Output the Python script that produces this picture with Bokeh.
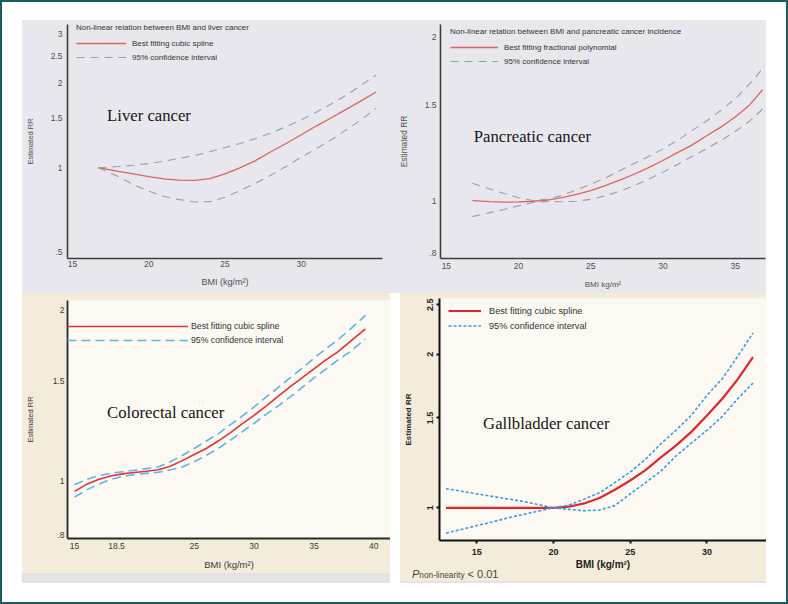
from bokeh.plotting import figure
from bokeh.models import Range1d, FixedTicker, Legend, LegendItem, Label, Spacer, Div
from bokeh.layouts import row, column
from bokeh.embed import file_html
from bokeh.resources import INLINE

SANS = "Liberation Sans"
SERIF = "Liberation Serif"

# ---------------- data ----------------
liver_bmi = [16.7, 18, 19, 20, 21, 22, 23, 24, 25, 26, 27, 28, 29, 30, 31, 32, 33, 34, 34.9]
liver_rr = [1.0, 0.97, 0.95, 0.93, 0.912, 0.903, 0.902, 0.915, 0.95, 1.0, 1.06, 1.14, 1.22, 1.31, 1.41, 1.51, 1.62, 1.74, 1.86]
liver_hi = [1.0, 1.01, 1.02, 1.035, 1.055, 1.08, 1.105, 1.14, 1.18, 1.22, 1.27, 1.33, 1.40, 1.48, 1.58, 1.69, 1.82, 1.98, 2.14]
liver_lo = [1.0, 0.93, 0.87, 0.825, 0.79, 0.77, 0.755, 0.757, 0.785, 0.83, 0.88, 0.94, 1.01, 1.09, 1.17, 1.26, 1.37, 1.49, 1.63]
liver_xticks = [15, 20, 25, 30]
liver_xlabels = ["15", "20", "25", "30"]
liver_yticks = [0.5, 1, 1.5, 2, 2.5, 3]
liver_ylabels = [".5", "1", "1.5", "2", "2.5", "3"]

panc_bmi = [16.8, 18, 19, 20, 21, 22, 23, 24, 25, 26, 27, 28, 29, 30, 31, 32, 33, 34, 35, 36, 36.9]
panc_rr = [1.0, 0.995, 0.993, 0.994, 0.997, 1.002, 1.012, 1.026, 1.043, 1.065, 1.09, 1.118, 1.15, 1.185, 1.225, 1.265, 1.315, 1.365, 1.425, 1.5, 1.6]
panc_hi = [1.076, 1.05, 1.03, 1.012, 1.0, 1.006, 1.022, 1.045, 1.072, 1.10, 1.135, 1.17, 1.205, 1.245, 1.29, 1.345, 1.4, 1.465, 1.54, 1.64, 1.75]
panc_lo = [0.934, 0.95, 0.963, 0.978, 0.992, 0.996, 0.995, 0.997, 1.005, 1.02, 1.04, 1.065, 1.095, 1.128, 1.165, 1.205, 1.245, 1.29, 1.34, 1.4, 1.475]
panc_xticks = [15, 20, 25, 30, 35]
panc_xlabels = ["15", "20", "25", "30", "35"]
panc_yticks = [0.8, 1, 1.5, 2]
panc_ylabels = [".8", "1", "1.5", "2"]

colo_bmi = [15, 16, 17, 18, 19, 20, 21, 22, 23, 24, 25, 26, 27, 28, 29, 30, 31, 32, 33, 34, 35, 36, 37, 38, 39.3]
colo_rr = [0.957, 0.985, 1.005, 1.019, 1.028, 1.034, 1.039, 1.045, 1.06, 1.085, 1.112, 1.14, 1.175, 1.215, 1.26, 1.305, 1.355, 1.41, 1.465, 1.52, 1.577, 1.635, 1.69, 1.76, 1.856]
colo_hi = [0.983, 1.005, 1.02, 1.03, 1.037, 1.043, 1.05, 1.057, 1.08, 1.108, 1.14, 1.175, 1.21, 1.255, 1.3, 1.35, 1.405, 1.46, 1.52, 1.58, 1.646, 1.71, 1.775, 1.85, 1.96]
colo_lo = [0.935, 0.963, 0.985, 1.005, 1.017, 1.025, 1.03, 1.035, 1.045, 1.057, 1.08, 1.108, 1.14, 1.178, 1.22, 1.263, 1.31, 1.355, 1.405, 1.46, 1.52, 1.575, 1.635, 1.69, 1.78]
colo_xticks = [15, 18.5, 25, 30, 35, 40]
colo_xlabels = ["15", "18.5", "25", "30", "35", "40"]
colo_yticks = [0.8, 1, 1.5, 2]
colo_ylabels = [".8", "1", "1.5", "2"]

gall_bmi = [13, 14, 15, 16, 17, 18, 19, 20, 21, 22, 23, 24, 25, 26, 27, 28, 29, 30, 31, 32, 33]
gall_rr = [1.0, 1.0, 1.0, 1.0, 1.0, 1.0, 1.0, 1.0, 1.005, 1.02, 1.045, 1.085, 1.131, 1.185, 1.255, 1.325, 1.41, 1.517, 1.635, 1.785, 1.974]
gall_hi = [1.09, 1.078, 1.065, 1.053, 1.041, 1.03, 1.015, 1.0, 1.012, 1.04, 1.07, 1.12, 1.175, 1.245, 1.335, 1.42, 1.52, 1.66, 1.79, 1.98, 2.2]
gall_lo = [0.892, 0.907, 0.923, 0.938, 0.955, 0.97, 0.985, 1.0, 0.993, 0.987, 0.99, 1.01, 1.065, 1.12, 1.18, 1.265, 1.34, 1.418, 1.51, 1.635, 1.755]
gall_xticks = [15, 20, 25, 30]
gall_xlabels = ["15", "20", "25", "30"]
gall_yticks = [1, 1.5, 2, 2.5]
gall_ylabels = ["1", "1.5", "2", "2.5"]

# ---------------- colours ----------------
GRAY_BG = "#e8e7ed"
CREAM = "#f4ecda"
CREAM_IN = "#fbf9f2"
STRIP = "#e3e3e6"
TEAL = "#1b5c5e"


def panel(w, h, borders, xr, yr, bg, frame_bg):
    l, r, t, b = borders
    p = figure(width=w, height=h, x_range=Range1d(*xr), y_range=Range1d(*yr),
               y_axis_type="log", output_backend="svg", toolbar_location=None,
               min_border_left=l, min_border_right=r, min_border_top=t, min_border_bottom=b,
               background_fill_color=frame_bg, border_fill_color=bg, outline_line_color=None)
    p.grid.visible = False
    return p


def axes(p, xt, xl, yt, yl, xtitle, size, color, lcolor, lwidth, style, tick_out,
         y_std, y_lstd, x_std, x_lstd, xtitle_size, ytitle_size, y_orient=None):
    p.xaxis.ticker = FixedTicker(ticks=xt)
    p.yaxis.ticker = FixedTicker(ticks=yt)
    p.xaxis.major_label_overrides = dict(zip(xt, xl))
    p.yaxis.major_label_overrides = dict(zip(yt, yl))
    p.xaxis.axis_label = xtitle
    p.yaxis.axis_label = "Estimated RR"
    for ax in (p.xaxis, p.yaxis):
        ax.axis_line_color = lcolor
        ax.axis_line_width = lwidth
        ax.major_tick_in = 0
        ax.major_tick_out = tick_out
        ax.major_tick_line_color = lcolor if tick_out else None
        ax.major_tick_line_width = lwidth
        ax.minor_tick_line_color = None
        ax.minor_tick_in = 0
        ax.minor_tick_out = 0
        ax.major_label_text_font = SANS
        ax.major_label_text_font_size = size
        ax.major_label_text_color = color
        ax.major_label_text_font_style = style
        ax.axis_label_text_font = SANS
        ax.axis_label_text_color = color
        ax.axis_label_text_font_style = style
    p.xaxis.axis_label_text_font_size = xtitle_size
    p.yaxis.axis_label_text_font_size = ytitle_size
    p.yaxis.major_label_standoff = y_std
    p.yaxis.axis_label_standoff = y_lstd
    p.xaxis.major_label_standoff = x_std
    p.xaxis.axis_label_standoff = x_lstd
    if y_orient is not None:
        p.yaxis.major_label_orientation = y_orient


def legend(p, items, loc, title, size, gw, gh, lstd, spacing, baseline="middle", tstd=5):
    kw = {}
    if title:
        kw = dict(title=title, title_text_font=SANS, title_text_font_size=size,
                  title_text_font_style="normal", title_text_color="#333333",
                  title_standoff=tstd)
    lg = Legend(items=[LegendItem(label=t, renderers=[r]) for t, r in items],
                location=loc, label_text_font=SANS, label_text_font_size=size,
                label_text_color="#333333", label_text_baseline=baseline,
                glyph_width=gw, glyph_height=gh, label_height=gh, label_standoff=lstd,
                spacing=spacing, padding=0, margin=0, border_line_color=None,
                background_fill_alpha=0, **kw)
    p.add_layout(lg)


def big_label(p, x, y, text):
    p.add_layout(Label(x=x, y=y, text=text, text_font=SERIF, text_font_size="16.7px",
                       text_baseline="middle", text_align="left", text_color="#161616"))


# ---------------- Liver (top left) ----------------
tl = panel(373, 273, (42, 13, 2, 33), (14.675, 35.32), (0.475, 3.236), GRAY_BG, GRAY_BG)
axes(tl, liver_xticks, liver_xlabels, liver_yticks, liver_ylabels, "BMI (kg/m²)", "8.5px",
     "#505050", "#3c3c3c", 1.6, "normal", 0, 5, 13, 2, 7, "9px", "7.5px")
r1 = tl.line(liver_bmi, liver_rr, line_color="#df6262", line_width=1.3)
r2 = tl.line(liver_bmi, liver_hi, line_color="#9c9ca4", line_width=1.1, line_dash="8 6")
tl.line(liver_bmi, liver_lo, line_color="#9c9ca4", line_width=1.1, line_dash="8 6")
legend(tl, [("Best fitting cubic spline", r1), ("95% confidence interval", r2)], (9, 195),
       "Non-linear relation between BMI and liver cancer", "8px", 50, 12, 6, 2)
big_label(tl, 17.27, 1.54, "Liver cancer")

# ---------------- Pancreatic (top right) ----------------
tr = panel(371, 273, (38, 1, 4, 35), (14.593, 37.1), (0.782, 2.110), GRAY_BG, GRAY_BG)
axes(tr, panc_xticks, panc_xlabels, panc_yticks, panc_ylabels, "BMI kg/m²", "8.5px",
     "#505050", "#3c3c3c", 1.6, "normal", 0, 4, 13, 4, 8, "8px", "8.4px")
r1 = tr.line(panc_bmi, panc_rr, line_color="#df6262", line_width=1.3)
r2 = tr.line(panc_bmi, panc_hi, line_color="#9c9ca4", line_width=1.1, line_dash="8 6")
tr.line(panc_bmi, panc_lo, line_color="#9c9ca4", line_width=1.1, line_dash="8 6")
legend(tr, [("Best fitting fractional polynomial", r1), ("95% confidence interval", r2)], (10, 191),
       "Non-linear relation between BMI and pancreatic cancer incidence", "8px", 48, 12, 6, 2)
big_label(tr, 16.9, 1.312, "Pancreatic cancer")

# ---------------- Colorectal (bottom left) ----------------
bl = panel(368, 280, (42, 0, 7, 35), (14.41, 41.4), (0.790, 2.083), CREAM, CREAM_IN)
axes(bl, colo_xticks, colo_xlabels, colo_yticks, colo_ylabels, "BMI (kg/m²)", "8.5px",
     "#3a3a3a", "#2a2a2a", 1.8, "normal", 0, 3, 15, 4, 7, "9.5px", "7.5px")
r1 = bl.line(colo_bmi, colo_rr, line_color="#e5323a", line_width=1.6)
r2 = bl.line(colo_bmi, colo_hi, line_color="#5cb6e8", line_width=1.6, line_dash="9 5")
bl.line(colo_bmi, colo_lo, line_color="#5cb6e8", line_width=1.6, line_dash="9 5")
legend(bl, [("Best fitting cubic spline", r1), ("95% confidence interval", r2)], (0, 192),
       None, "8.7px", 121, 12, 3, 2, baseline="bottom")
big_label(bl, 17.72, 1.32, "Colorectal cancer")

# ---------------- Gallbladder (bottom right) ----------------
br = panel(366, 280, (38, 0, 5, 33), (12.58, 33.88), (0.863, 2.57), CREAM, CREAM_IN)
axes(br, gall_xticks, gall_xlabels, gall_yticks, gall_ylabels, "BMI (kg/m²)", "9px",
     "#222222", "#111111", 2, "bold", 3, 3, 12, 5, 1, "10px", "8px", y_orient="vertical")
r1 = br.line(gall_bmi, gall_rr, line_color="#e0262c", line_width=2.2)
r2 = br.line(gall_bmi, gall_hi, line_color="#3f9be0", line_width=1.6, line_dash="3 2")
br.line(gall_bmi, gall_lo, line_color="#3f9be0", line_width=1.6, line_dash="3 2")
legend(br, [("Best fitting cubic spline", r1), ("95% confidence interval", r2)], (9, 208),
       None, "9.2px", 33, 13, 8, 2)
big_label(br, 15.42, 1.463, "Gallbladder cancer")

pnote = Div(
    text=('<div style="position:relative;top:-7px;left:12px;white-space:nowrap;'
          'font-family:\'Liberation Sans\';color:#444444;line-height:11px;">'
          '<i style="font-size:11px">P</i><span style="font-size:8.3px">non-linearity</span>'
          '<span style="font-size:11px"> &lt; 0.01</span></div>'),
    width=366, height=8, margin=0,
    styles={"background-color": CREAM, "overflow": "visible"})

# ---------------- layout ----------------
top_row = row(tl, tr, spacing=0, margin=(20, 0, 0, 22),
              styles={"background-color": GRAY_BG})
bl_col = column(bl, Spacer(width=368, height=10, margin=0, styles={"background-color": STRIP}),
                spacing=0, styles={"background-color": CREAM})
br_col = column(br, pnote, Spacer(width=366, height=2, margin=0, styles={"background-color": STRIP}),
                spacing=0, styles={"background-color": CREAM})
bottom_row = row(bl_col, br_col, spacing=10, margin=(0, 0, 0, 22))
page = column(top_row, bottom_row, spacing=0, width=788, height=604,
              styles={"outline": "2px solid " + TEAL, "outline-offset": "-2px",
                      "background-color": "white"})

open("out.html", "w").write(file_html(page, INLINE))
